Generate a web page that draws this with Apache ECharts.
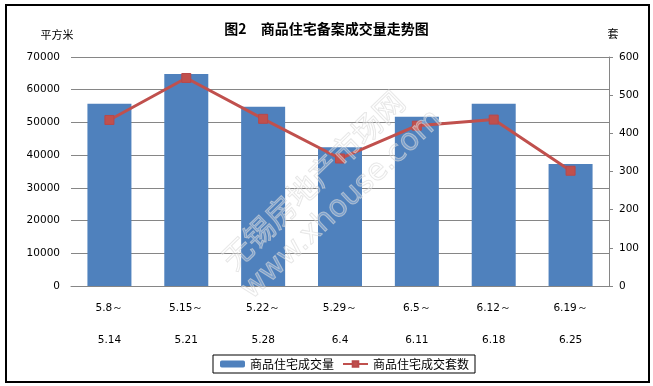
<!DOCTYPE html>
<html>
<head>
<meta charset="utf-8">
<script src="https://cdn.jsdelivr.net/npm/echarts@6/dist/echarts.min.js"></script>
<style>html,body{margin:0;padding:0;background:#fff}#c{width:653px;height:386px}</style>
</head>
<body>
<div id="c"></div>
<script>
const periodStart = ['5.8～', '5.15～', '5.22～', '5.29～', '6.5～', '6.12～', '6.19～'];
const periodEnd = ['5.14', '5.21', '5.28', '6.4', '6.11', '6.18', '6.25'];
const areaValues = [55700, 64800, 54800, 42400, 51700, 55700, 37300];
const unitValues = [435, 545, 438, 334, 420, 436, 302];
const titleText = '图2　商品住宅备案成交量走势图';
const leftUnit = '平方米';
const rightUnit = '套';
const seriesNames = ['商品住宅成交量', '商品住宅成交套数'];

const categories = periodStart.map((s, i) => s + '\n' + periodEnd[i]);
const numFont = 'DejaVu Sans';
const cjkFont = '"Noto Sans CJK SC", sans-serif';
const chart = echarts.init(document.getElementById('c'), null, {renderer: 'canvas'});
chart.setOption({
  animation: false,
  backgroundColor: '#fff',
  title: {
    text: titleText, left: 'center', top: 17,
    textStyle: {fontFamily: cjkFont, fontSize: 14, fontWeight: 'bold', color: '#000'}
  },
  grid: {left: 71, right: 44, top: 57, bottom: 100},
  legend: {
    left: 213, top: 355, itemWidth: 25, itemHeight: 7, itemGap: 8,
    padding: [3, 6, 3, 7], borderColor: '#000', borderWidth: 1,
    textStyle: {fontFamily: cjkFont, fontSize: 12, color: '#000'},
    data: seriesNames
  },
  xAxis: {
    type: 'category', data: categories,
    axisLine: {lineStyle: {color: '#868686', width: 1}},
    axisTick: {show: false},
    axisLabel: {fontFamily: numFont, fontSize: 10.5, color: '#000', lineHeight: 32, margin: 6, interval: 0}
  },
  yAxis: [
    {
      type: 'value', min: 0, max: 70000, interval: 10000,
      axisLine: {show: false}, axisTick: {show: false},
      axisLabel: {fontFamily: numFont, fontSize: 10.5, color: '#000', margin: 11, formatter: v => String(v)},
      splitLine: {lineStyle: {color: '#868686', width: 1}}
    },
    {
      type: 'value', min: 0, max: 600, interval: 100, position: 'right',
      axisLine: {show: true, lineStyle: {color: '#868686', width: 1}},
      axisTick: {show: true, length: 4, lineStyle: {color: '#868686'}},
      axisLabel: {fontFamily: numFont, fontSize: 10.5, color: '#000', margin: 10, formatter: v => String(v)},
      splitLine: {show: false}
    }
  ],
  series: [
    {
      name: seriesNames[0], type: 'bar', data: areaValues, barWidth: 44,
      itemStyle: {color: '#4F81BD'}
    },
    {
      name: seriesNames[1], type: 'line', yAxisIndex: 1, data: unitValues,
      symbol: 'rect', symbolSize: 9,
      lineStyle: {color: '#C0504D', width: 3},
      itemStyle: {color: '#C0504D', borderColor: '#B9484A', borderWidth: 1}
    }
  ],
  graphic: [
    {type: 'rect', silent: true, z: 100, shape: {x: 6, y: 5, width: 643, height: 377},
      style: {fill: 'none', stroke: '#000', lineWidth: 2}},
    {type: 'text', x: 57, y: 35, z: 100,
      style: {text: leftUnit, font: '11px "Noto Sans CJK SC"', fill: '#000', textAlign: 'center', textVerticalAlign: 'middle'}},
    {type: 'text', x: 613, y: 34, z: 100,
      style: {text: rightUnit, font: '11px "Noto Sans CJK SC"', fill: '#000', textAlign: 'center', textVerticalAlign: 'middle'}},
    {type: 'text', x: 313, y: 180, rotation: 0.77, z: 50, silent: true,
      style: {text: '无锡房地产市场网', font: '30px "Noto Sans CJK SC"', fill: 'rgba(255,255,255,0.25)', stroke: 'rgba(210,210,210,0.6)', lineWidth: 1, textAlign: 'center', textVerticalAlign: 'middle'}},
    {type: 'text', x: 342, y: 205, rotation: 0.75, z: 50, silent: true,
      style: {text: 'www.xhouse.com', font: '30px "DejaVu Sans"', fill: 'rgba(255,255,255,0.25)', stroke: 'rgba(210,210,210,0.6)', lineWidth: 1, textAlign: 'center', textVerticalAlign: 'middle'}}
  ]
});
</script>
</body>
</html>
